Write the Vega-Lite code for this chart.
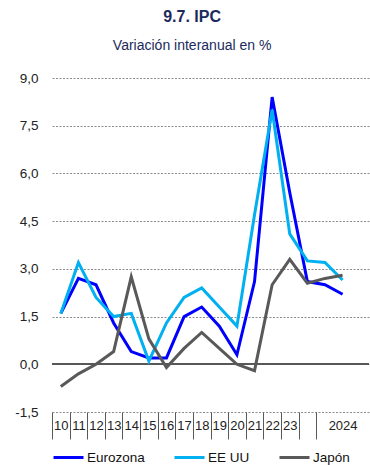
{
  "$schema": "https://vega.github.io/schema/vega-lite/v6.json",
  "width": 370,
  "height": 465,
  "autosize": {"type": "fit", "contains": "padding"},
  "padding": {"left": 14, "top": 9, "right": 0, "bottom": 1},
  "background": "white",
  "config": {
    "font": "Liberation Sans",
    "view": {"stroke": null}
  },
  "title": {
    "text": "9.7. IPC",
    "subtitle": "Variación interanual en %",
    "anchor": "middle",
    "frame": "bounds",
    "offset": 18,
    "fontSize": 16,
    "fontWeight": "bold",
    "color": "#1B2A5C",
    "subtitleFontSize": 14,
    "subtitleColor": "#1B2A5C",
    "subtitlePadding": 14
  },
  "datasets": {
    "ipc": [
      {"periodo": "10", "serie": "Eurozona", "valor": 1.6},
      {"periodo": "11", "serie": "Eurozona", "valor": 2.7},
      {"periodo": "12", "serie": "Eurozona", "valor": 2.5},
      {"periodo": "13", "serie": "Eurozona", "valor": 1.3},
      {"periodo": "14", "serie": "Eurozona", "valor": 0.4},
      {"periodo": "15", "serie": "Eurozona", "valor": 0.2},
      {"periodo": "16", "serie": "Eurozona", "valor": 0.2},
      {"periodo": "17", "serie": "Eurozona", "valor": 1.5},
      {"periodo": "18", "serie": "Eurozona", "valor": 1.8},
      {"periodo": "19", "serie": "Eurozona", "valor": 1.2},
      {"periodo": "20", "serie": "Eurozona", "valor": 0.3},
      {"periodo": "21", "serie": "Eurozona", "valor": 2.6},
      {"periodo": "22", "serie": "Eurozona", "valor": 8.4},
      {"periodo": "23", "serie": "Eurozona", "valor": 5.4},
      {"periodo": "24T1", "serie": "Eurozona", "valor": 2.6},
      {"periodo": "24T2", "serie": "Eurozona", "valor": 2.5},
      {"periodo": "24T3", "serie": "Eurozona", "valor": 2.2},
      {"periodo": "10", "serie": "EE UU", "valor": 1.6},
      {"periodo": "11", "serie": "EE UU", "valor": 3.2},
      {"periodo": "12", "serie": "EE UU", "valor": 2.1},
      {"periodo": "13", "serie": "EE UU", "valor": 1.5},
      {"periodo": "14", "serie": "EE UU", "valor": 1.6},
      {"periodo": "15", "serie": "EE UU", "valor": 0.1},
      {"periodo": "16", "serie": "EE UU", "valor": 1.3},
      {"periodo": "17", "serie": "EE UU", "valor": 2.1},
      {"periodo": "18", "serie": "EE UU", "valor": 2.4},
      {"periodo": "19", "serie": "EE UU", "valor": 1.8},
      {"periodo": "20", "serie": "EE UU", "valor": 1.2},
      {"periodo": "21", "serie": "EE UU", "valor": 4.7},
      {"periodo": "22", "serie": "EE UU", "valor": 8.0},
      {"periodo": "23", "serie": "EE UU", "valor": 4.1},
      {"periodo": "24T1", "serie": "EE UU", "valor": 3.25},
      {"periodo": "24T2", "serie": "EE UU", "valor": 3.2},
      {"periodo": "24T3", "serie": "EE UU", "valor": 2.65},
      {"periodo": "10", "serie": "Japón", "valor": -0.7},
      {"periodo": "11", "serie": "Japón", "valor": -0.3},
      {"periodo": "12", "serie": "Japón", "valor": 0.0},
      {"periodo": "13", "serie": "Japón", "valor": 0.4},
      {"periodo": "14", "serie": "Japón", "valor": 2.75},
      {"periodo": "15", "serie": "Japón", "valor": 0.8},
      {"periodo": "16", "serie": "Japón", "valor": -0.1},
      {"periodo": "17", "serie": "Japón", "valor": 0.5},
      {"periodo": "18", "serie": "Japón", "valor": 1.0},
      {"periodo": "19", "serie": "Japón", "valor": 0.5},
      {"periodo": "20", "serie": "Japón", "valor": 0.0},
      {"periodo": "21", "serie": "Japón", "valor": -0.2},
      {"periodo": "22", "serie": "Japón", "valor": 2.5},
      {"periodo": "23", "serie": "Japón", "valor": 3.3},
      {"periodo": "24T1", "serie": "Japón", "valor": 2.55},
      {"periodo": "24T2", "serie": "Japón", "valor": 2.7},
      {"periodo": "24T3", "serie": "Japón", "valor": 2.8}
    ]
  },
  "data": {"name": "ipc"},
  "layer": [
    {
      "mark": {"type": "rule", "color": "#595959", "strokeWidth": 1},
      "encoding": {
        "y": {"datum": 0, "type": "quantitative"}
      }
    },
    {
      "mark": {"type": "line", "strokeWidth": 3},
      "encoding": {
        "x": {
          "field": "periodo",
          "type": "ordinal",
          "scale": {"type": "band", "paddingInner": 0, "paddingOuter": 0,
            "domain": ["10","11","12","13","14","15","16","17","18","19","20","21","22","23","24T1","24T2","24T3","24T4"]},
          "axis": {
            "title": null,
            "domain": false,
            "grid": false,
            "tickBand": "extent",
            "tickSize": 27,
            "tickOpacity": {"condition": {"test": "datum.value == '24T2' || datum.value == '24T3' || datum.value == '24T4'", "value": 0}, "value": 1},
            "tickColor": "#595959",
            "labelExpr": "datum.value == '24T3' ? '2024' : ((!datum.value || datum.value == '24T1' || datum.value == '24T2' || datum.value == '24T4') ? '' : datum.value)",
            "labelPadding": -20,
            "labelFontSize": 13,
            "labelColor": "#222222",
            "labelOverlap": false,
            "labelAngle": 0
          }
        },
        "y": {
          "field": "valor",
          "type": "quantitative",
          "scale": {"domain": [-1.5, 9], "nice": false, "zero": false},
          "axis": {
            "title": null,
            "values": [-1.5, 0, 1.5, 3, 4.5, 6, 7.5, 9],
            "domain": false,
            "ticks": false,
            "grid": true,
            "gridColor": "#8C8C8C",
            "gridDash": [2, 1.5],
            "labelExpr": "replace(replace(format(datum.value, '.1f'), '.', ','), '−', '-')",
            "labelPadding": 14,
            "labelFontSize": 13.5,
            "labelColor": "#222222"
          }
        },
        "color": {
          "field": "serie",
          "type": "nominal",
          "scale": {"domain": ["Eurozona", "EE UU", "Japón"], "range": ["#0000FF", "#00B0F0", "#595959"]},
          "legend": {
            "title": null,
            "orient": "bottom",
            "direction": "horizontal",
            "symbolType": "stroke",
            "symbolSize": 900,
            "symbolStrokeWidth": 3,
            "labelFontSize": 13.5,
            "labelColor": "#111111",
            "labelOffset": 2,
            "columnPadding": 23,
            "padding": 0,
            "offset": 1
          }
        }
      }
    }
  ]
}
